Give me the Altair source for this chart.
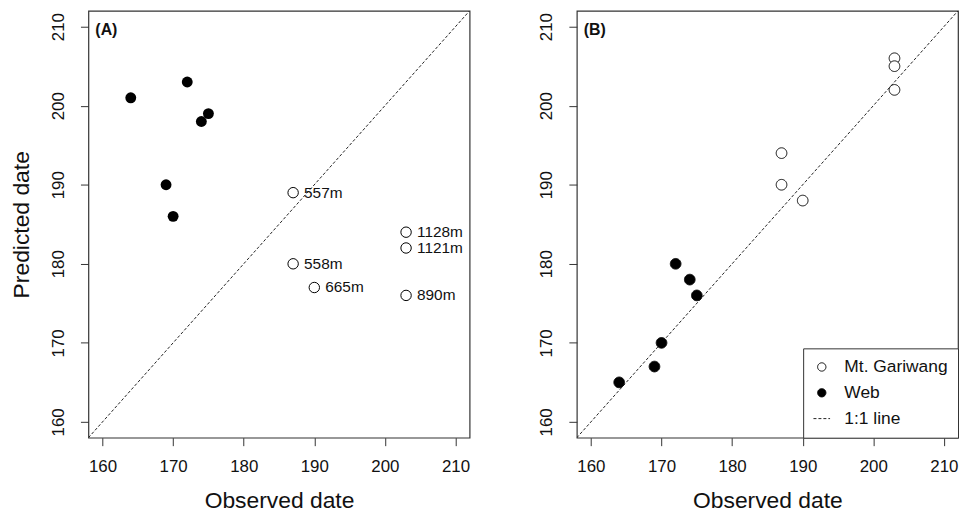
import altair as alt
import pandas as pd

# ---- data ----
panel_labels = ["(A)", "(B)"]
series_names = ["Mt. Gariwang", "Web", "1:1 line"]

# Panel A
a_web_obs = [164, 172, 174, 175, 169, 170]
a_web_pred = [201, 203, 198, 199, 190, 186]
a_gar_obs = [187, 187, 190, 203, 203, 203]
a_gar_pred = [189, 180, 177, 184, 182, 176]
a_gar_labels = ["557m", "558m", "665m", "1128m", "1121m", "890m"]

# Panel B
b_gar_obs = [203, 203, 203, 187, 187, 190]
b_gar_pred = [206, 205, 202, 194, 190, 188]
b_web_obs = [172, 174, 175, 170, 169, 164]
b_web_pred = [180, 178, 176, 170, 167, 165]

axis_domain = [158, 212]
tick_values = [160, 170, 180, 190, 200, 210]

FONT = "Liberation Sans"
INK = "#111111"
W, H = 384, 430

xs = alt.Scale(domain=axis_domain, nice=False, zero=False)
ys = alt.Scale(domain=axis_domain, nice=False, zero=False)


def xenc(field):
    return alt.X(field + ":Q", scale=xs,
                 axis=alt.Axis(values=tick_values, title="Observed date"))


def yenc(field, title):
    if title:
        ax = alt.Axis(values=tick_values, title=title)
    else:
        ax = alt.Axis(values=tick_values, title=None)
    return alt.Y(field + ":Q", scale=ys, axis=ax)


line_df = pd.DataFrame({"obs": axis_domain, "pred": axis_domain,
                        "series": [series_names[2]] * 2})

# ---- Panel A ----
a_web = pd.DataFrame({"obs": a_web_obs, "pred": a_web_pred})
a_gar = pd.DataFrame({"obs": a_gar_obs, "pred": a_gar_pred, "lab": a_gar_labels})

a_line = alt.Chart(line_df).mark_line(color="#222", strokeWidth=1,
                                      strokeDash=[3, 2], clip=True).encode(
    x=xenc("obs"), y=yenc("pred", "Predicted date"))
a_pts_web = alt.Chart(a_web).mark_point(shape="circle", size=120, filled=True,
                                        color="black", opacity=1).encode(
    x=xenc("obs"), y=yenc("pred", "Predicted date"))
a_pts_gar = alt.Chart(a_gar).mark_point(shape="circle", size=110, fill="white",
                                        stroke="black", strokeWidth=1,
                                        opacity=1, fillOpacity=1).encode(
    x=xenc("obs"), y=yenc("pred", "Predicted date"))
a_text = alt.Chart(a_gar).mark_text(align="left", baseline="middle", dx=11,
                                    fontSize=15.5, font=FONT, color=INK).encode(
    x=xenc("obs"), y=yenc("pred", "Predicted date"), text="lab:N")
a_tag = alt.Chart(line_df.head(1)).mark_text(
    align="left", baseline="middle", fontSize=16, fontWeight="bold",
    font=FONT, color=INK, text=panel_labels[0]).encode(
    x=alt.value(7), y=alt.value(19))

panel_a = alt.layer(a_line, a_pts_web, a_pts_gar, a_text, a_tag).properties(
    width=W, height=H)

# ---- Panel B ----
b_pts = pd.DataFrame({
    "obs": b_gar_obs + b_web_obs,
    "pred": b_gar_pred + b_web_pred,
    "series": [series_names[0]] * len(b_gar_obs) + [series_names[1]] * len(b_web_obs),
})

leg = alt.Legend(title=None, orient="bottom-right", offset=0)
shape_s = alt.Scale(domain=series_names, range=["circle", "circle", "M-2,0L2,0"])
fill_s = alt.Scale(domain=series_names, range=["white", "black", "transparent"])
stroke_s = alt.Scale(domain=series_names, range=["black", "black", "#222"])
dash_s = alt.Scale(domain=series_names, range=[[1, 0], [1, 0], [3, 2]])

b_line = alt.Chart(line_df).mark_line(strokeWidth=1, clip=True, color="#222").encode(
    x=xenc("obs"), y=yenc("pred", None),
    strokeDash=alt.StrokeDash("series:N", scale=dash_s, legend=leg))
b_points = alt.Chart(b_pts).mark_point(size=115, strokeWidth=1, opacity=1,
                                       fillOpacity=1).encode(
    x=xenc("obs"), y=yenc("pred", None),
    shape=alt.Shape("series:N", scale=shape_s, legend=leg),
    fill=alt.Fill("series:N", scale=fill_s, legend=leg),
    stroke=alt.Stroke("series:N", scale=stroke_s, legend=leg),
    strokeDash=alt.StrokeDash("series:N", scale=dash_s, legend=leg))
b_tag = alt.Chart(line_df.head(1)).mark_text(
    align="left", baseline="middle", fontSize=16, fontWeight="bold",
    font=FONT, color=INK, text=panel_labels[1]).encode(
    x=alt.value(7), y=alt.value(19))

panel_b = alt.layer(b_line, b_points, b_tag).properties(width=W, height=H)

chart = alt.hconcat(panel_a, panel_b, spacing=67).resolve_scale(
    shape="independent", fill="independent", stroke="independent",
    strokeDash="independent").resolve_legend(
    shape="independent", fill="independent", stroke="independent",
    strokeDash="independent").properties(
    padding={"left": 2, "right": 0, "top": 0, "bottom": 0},
    background="white",
).configure(font=FONT).configure_view(
    stroke="#333", strokeWidth=1.2
).configure_axis(
    grid=False, domain=False, tickColor="#333", tickSize=8, tickWidth=1,
    labelFontSize=17, labelColor=INK, labelFont=FONT,
    titleFontSize=23, titleFontWeight="normal", titleColor=INK, titleFont=FONT,
).configure_axisX(
    labelPadding=13, titlePadding=15,
).configure_axisY(
    labelAngle=270, labelAlign="center", labelBaseline="bottom",
    labelPadding=13, titlePadding=16,
).configure_legend(
    strokeColor="#333", fillColor="white", padding=10, labelFontSize=17.5,
    labelColor=INK, labelFont=FONT, rowPadding=7, symbolSize=70,
    symbolStrokeWidth=1, labelOffset=14, cornerRadius=0,
)

chart.save("out.html", embed_options={"renderer": "svg", "actions": False})
